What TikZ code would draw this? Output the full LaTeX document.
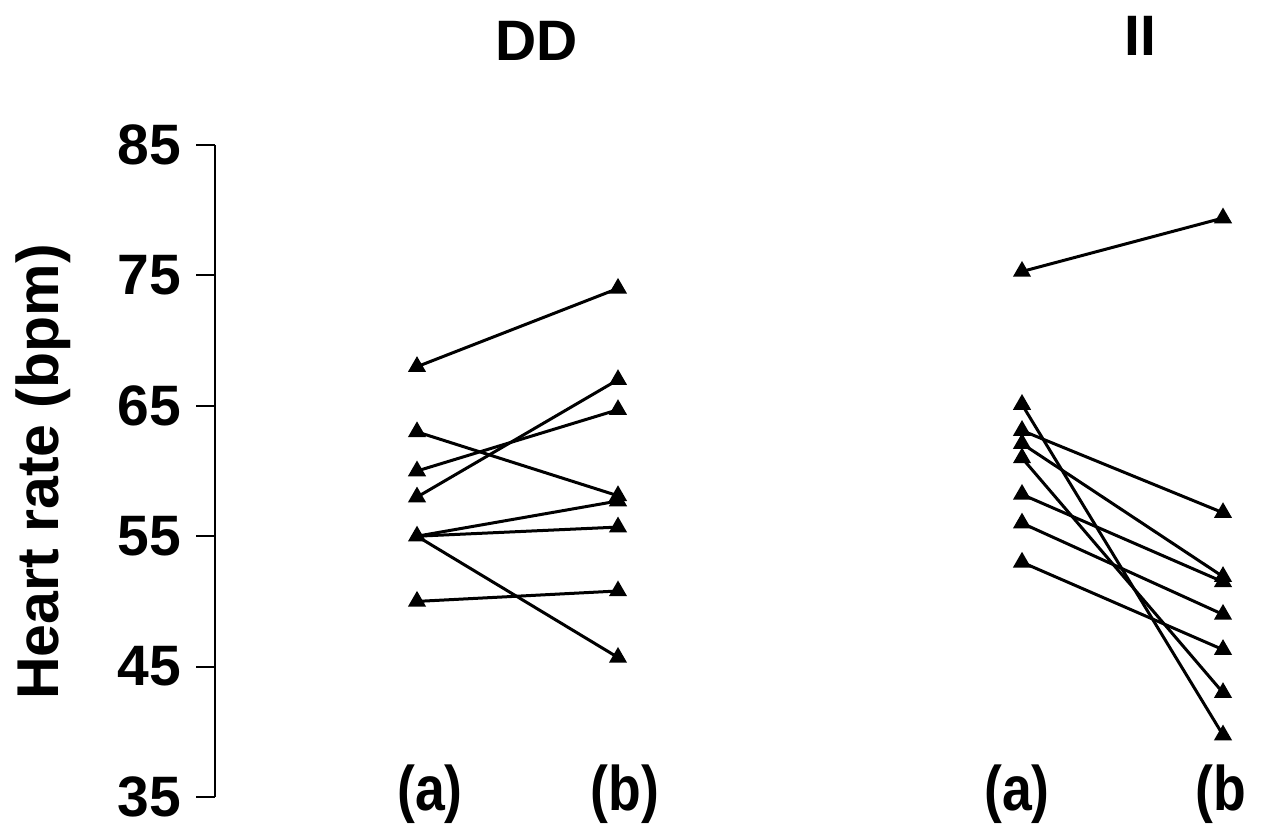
\documentclass[tikz,border=0pt]{standalone}
\usepackage{fontspec}
\setmainfont{Liberation Sans}
\newfontfamily\narrowfont[FakeStretch=0.85]{Liberation Sans}
\usetikzlibrary{shapes.geometric}
\tikzset{
  pt/.style={regular polygon, regular polygon sides=3, fill=black, draw=none, inner sep=0pt, minimum size=21pt},
  link/.style={line width=3pt, black},
  axisline/.style={line width=1.9pt, black},
  ticklab/.style={anchor=east, font=\fontsize{57}{61}\selectfont\bfseries, inner sep=0pt},
  title/.style={font=\fontsize{57}{62}\selectfont\bfseries, inner sep=0pt},
  grouplab/.style={font=\fontsize{63}{67}\selectfont\narrowfont\bfseries, inner sep=0pt}
}
\begin{document}
\begin{tikzpicture}[x=1pt,y=-1pt]
\useasboundingbox[fill=white] (0,0) rectangle (1265,827);
% titles
\node[title] (tDD) at (537,41) {DD};
\node[title] (tII) at (1140,36) {II};
% y label
\node[font=\fontsize{59}{63}\selectfont\bfseries, rotate=90, inner sep=0pt] (ylab) at (43,472) {Heart rate (bpm)};
% group labels
\node[grouplab] (ga1) at (430,794) {(a)};
\node[grouplab] (gb1) at (625,794) {(b)};
\node[grouplab] (ga2) at (1017,794) {(a)};
\node[grouplab, anchor=west] (gb2) at (1195,794) {(b};
\begin{scope}[yshift=-1253.4pt, y=13.04pt]
  % axis
  \coordinate (ax0) at (215,35);
  \coordinate (ax1) at (215,85);
  \draw[axisline] (ax0) -- (ax1);
  \foreach \v in {35,45,...,85} {
    \coordinate (tk\v) at (196,\v);
    \draw[axisline] (tk\v) -- (215,\v);
    \node[ticklab] (tl\v) at (181,\v) {\v};
  }
  % DD left
  \node[pt] (dl1) at (417,68) {};
  \node[pt] (dl2) at (417,63) {};
  \node[pt] (dl3) at (417,60) {};
  \node[pt] (dl4) at (417,58) {};
  \node[pt] (dl5) at (417,55) {};
  \node[pt] (dl6) at (417,50) {};
  % DD right
  \node[pt] (dr1) at (618,74) {};
  \node[pt] (dr2) at (618,67) {};
  \node[pt] (dr3) at (618,64.7) {};
  \node[pt] (dr4) at (618,58.1) {};
  \node[pt] (dr5) at (618,57.7) {};
  \node[pt] (dr6) at (618,55.7) {};
  \node[pt] (dr7) at (618,50.8) {};
  \node[pt] (dr8) at (618,45.7) {};
  \draw[link] (dl1.center) -- (dr1.center);
  \draw[link] (dl2.center) -- (dr4.center);
  \draw[link] (dl3.center) -- (dr3.center);
  \draw[link] (dl4.center) -- (dr2.center);
  \draw[link] (dl5.center) -- (dr5.center);
  \draw[link] (dl5.center) -- (dr6.center);
  \draw[link] (dl5.center) -- (dr8.center);
  \draw[link] (dl6.center) -- (dr7.center);
  % II left
  \node[pt] (il1) at (1022,75.3) {};
  \node[pt] (il2) at (1022,65.1) {};
  \node[pt] (il3) at (1022,63.1) {};
  \node[pt] (il4) at (1022,62.1) {};
  \node[pt] (il5) at (1022,61.0) {};
  \node[pt] (il6) at (1022,58.2) {};
  \node[pt] (il7) at (1022,56.0) {};
  \node[pt] (il8) at (1022,53.0) {};
  % II right
  \node[pt] (ir1) at (1223,79.4) {};
  \node[pt] (ir2) at (1223,56.8) {};
  \node[pt] (ir3) at (1223,51.9) {};
  \node[pt] (ir4) at (1223,51.5) {};
  \node[pt] (ir5) at (1223,49.0) {};
  \node[pt] (ir6) at (1223,46.3) {};
  \node[pt] (ir7) at (1223,43.0) {};
  \node[pt] (ir8) at (1223,39.75) {};
  \draw[link] (il1.center) -- (ir1.center);
  \draw[link] (il2.center) -- (ir8.center);
  \draw[link] (il3.center) -- (ir2.center);
  \draw[link] (il4.center) -- (ir3.center);
  \draw[link] (il5.center) -- (ir7.center);
  \draw[link] (il6.center) -- (ir4.center);
  \draw[link] (il7.center) -- (ir5.center);
  \draw[link] (il8.center) -- (ir6.center);
\end{scope}
\end{tikzpicture}
\end{document}
